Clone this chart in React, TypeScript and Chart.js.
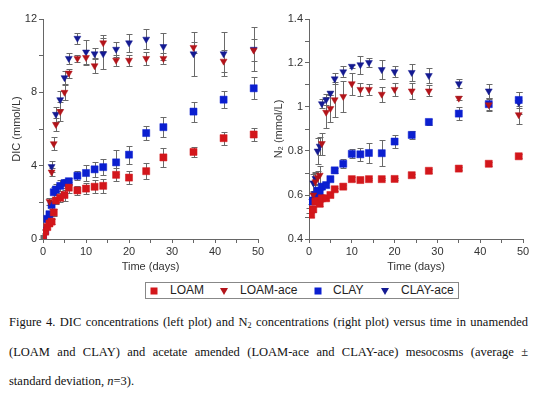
import React, { useEffect, useRef } from 'react';
import { Chart, registerables } from 'chart.js';
Chart.register(...registerables);

// ---------- data ----------
const times = [0, 0.5, 1, 1.5, 2, 2.5, 3, 4, 5, 6, 8, 10, 12, 14, 17, 20, 24, 28, 35, 42, 49];

const loamDic = [0.15, 0.4, 0.65, 0.85, 0.95, 1.45, 2.1, 2.25, 2.4, 2.8, 2.65, 2.75, 2.85, 2.9, 3.5, 3.35, 3.7, 4.45, 4.75, 5.5, 5.7];
const loamDicSd = [0.05, 0.1, 0.1, 0.15, 0.15, 0.2, 0.2, 0.25, 0.3, 0.3, 0.25, 0.3, 0.35, 0.4, 0.35, 0.35, 0.45, 0.5, 0.25, 0.35, 0.35];
const loamAceDic = [null, null, null, 2.05, 3.65, 5.2, 6.25, 6.95, 8.0, 9.05, 9.85, 9.9, 9.45, 10.7, 9.75, 9.75, 9.85, 9.85, 10.45, 9.7, 10.3];
const loamAceDicSd = [0, 0, 0, 0.2, 0.2, 0.35, 0.35, 0.5, 0.4, 0.25, 0.2, 0.4, 0.4, 0.45, 0.3, 0.3, 0.35, 0.3, 0.3, 0.6, 0.6];
const clayDic = [0.1, 0.45, 1.1, 1.35, 1.85, 2.55, 2.7, 2.9, 3.05, 3.15, 3.45, 3.6, 3.8, 3.92, 4.18, 4.6, 5.78, 6.1, 6.95, 7.6, 8.22];
const clayDicSd = [0.05, 0.1, 0.15, 0.15, 0.2, 0.3, 0.3, 0.3, 0.25, 0.2, 0.25, 0.45, 0.4, 0.45, 0.65, 0.5, 0.4, 0.55, 0.55, 0.45, 0.6];
const clayAceDic = [null, null, null, null, 3.95, null, 6.8, 7.6, 8.8, 9.85, 10.95, 10.2, 10.1, 10.1, 10.35, 10.7, 10.9, 10.5, 10.1, 10.1, 10.35];
const clayAceDicSd = [0, 0, 0, 0, 0.3, 0, 0.4, 0.5, 0.35, 0.3, 0.3, 0.65, 0.3, 0.85, 0.4, 0.5, 0.55, 0.75, 1.2, 1.2, 1.2];

const loamN2 = [0.53, 0.51, 0.535, 0.57, 0.573, 0.56, 0.585, 0.585, 0.6, 0.626, 0.638, 0.672, 0.668, 0.672, 0.672, 0.673, 0.69, 0.71, 0.72, 0.742, 0.776];
const loamN2Sd = [0.01, 0.01, 0.01, 0.01, 0.01, 0.01, 0.006, 0.006, 0.008, 0.008, 0.006, 0.008, 0.006, 0.006, 0.006, 0.006, 0.006, 0.008, 0.008, 0.008, 0.01];
const loamAceN2 = [null, null, 0.6, 0.66, 0.68, 0.69, 0.834, 0.976, 0.993, 1.033, 1.048, 1.106, 1.08, 1.08, 1.058, 1.08, 1.073, 1.073, 1.04, 1.01, 0.965];
const loamAceN2Sd = [0, 0, 0.02, 0.04, 0.03, 0.04, 0.05, 0.07, 0.06, 0.08, 0.07, 0.05, 0.03, 0.025, 0.035, 0.03, 0.035, 0.025, 0.01, 0.03, 0.04];
const clayN2 = [null, 0.57, 0.575, 0.6, 0.62, 0.615, 0.638, 0.645, 0.672, 0.712, 0.742, 0.787, 0.785, 0.791, 0.79, 0.843, 0.873, 0.932, 0.97, 1.013, 1.032];
const clayN2Sd = [0, 0.01, 0.01, 0.01, 0.01, 0.01, 0.01, 0.01, 0.01, 0.01, 0.02, 0.02, 0.03, 0.045, 0.058, 0.03, 0.02, 0.015, 0.028, 0.025, 0.035];
const clayAceN2 = [null, null, 0.655, 0.675, 0.8, 0.822, 1.015, 1.033, 1.063, 1.128, 1.16, 1.185, 1.192, 1.202, 1.17, 1.16, 1.157, 1.143, 1.106, 1.073, 1.02];
const clayAceN2Sd = [0, 0, 0.04, 0.03, 0.06, 0.04, 0.02, 0.025, 0.01, 0.025, 0.025, 0.008, 0.04, 0.02, 0.045, 0.025, 0.04, 0.035, 0.02, 0.03, 0.05];

const seriesNames = ['LOAM', 'LOAM-ace', 'CLAY', 'CLAY-ace'];
const seriesColors = ['#d3161b', '#b3141a', '#0b1fd0', '#141a92'];
const seriesShapes = ['square', 'triangle', 'square', 'triangle'];

const dicTicks = [0, 4, 8, 12];
const n2Ticks = [0.4, 0.6, 0.8, 1.0, 1.2, 1.4];
const timeTicks = [0, 10, 20, 30, 40, 50];

// ---------- helpers ----------
const toPoints = (vals: (number | null)[]) => times.map((t, i) => ({ x: t, y: vals[i] }));

const errorBarPlugin = {
  id: 'errorBars',
  beforeDatasetsDraw(chart: any) {
    const ctx = chart.ctx;
    const xs = chart.scales.x;
    const ys = chart.scales.y;
    ctx.save();
    ctx.strokeStyle = '#6a6a6a';
    ctx.lineWidth = 1;
    chart.data.datasets.forEach((ds: any) => {
      const errs = ds.errors as number[];
      ds.data.forEach((p: any, i: number) => {
        if (p.y == null || !errs || !errs[i]) return;
        const x = Math.round(xs.getPixelForValue(p.x)) + 0.5;
        const y1 = Math.round(ys.getPixelForValue(p.y - errs[i])) + 0.5;
        const y2 = Math.round(ys.getPixelForValue(p.y + errs[i])) + 0.5;
        ctx.beginPath();
        ctx.moveTo(x, y1);
        ctx.lineTo(x, y2);
        ctx.moveTo(x - 3, y1);
        ctx.lineTo(x + 3, y1);
        ctx.moveTo(x - 3, y2);
        ctx.lineTo(x + 3, y2);
        ctx.stroke();
      });
    });
    ctx.restore();
  },
};

const mkDataset = (idx: number, vals: (number | null)[], sd: number[]) => {
  const tri = seriesShapes[idx] === 'triangle';
  return {
    label: seriesNames[idx],
    data: toPoints(vals),
    errors: sd,
    pointStyle: tri ? 'triangle' : 'rect',
    rotation: tri ? 180 : 0,
    pointRadius: tri ? 4 : 5,
    pointBackgroundColor: seriesColors[idx],
    pointBorderColor: seriesColors[idx],
    pointBorderWidth: 0.5,
    showLine: false,
  };
};

const FONT = 'Liberation Sans, Arial, sans-serif';

const makeConfig = (opts: any) => ({
  type: 'scatter',
  data: { datasets: opts.datasets },
  plugins: [errorBarPlugin],
  options: {
    animation: false,
    responsive: false,
    events: [],
    layout: { padding: { left: 0, top: 19, right: opts.padRight, bottom: 0 } },
    plugins: { legend: { display: false }, tooltip: { enabled: false } },
    scales: {
      x: {
        type: 'linear',
        min: 0,
        max: 50,
        afterFit: (s: any) => { s.height = 41; },
        ticks: {
          stepSize: 5,
          autoSkip: false,
          maxRotation: 0,
          padding: 2,
          color: '#333',
          font: { family: FONT, size: 11 },
          callback: (v: number) => (timeTicks.includes(v) ? String(v) : ''),
        },
        grid: { drawOnChartArea: false, drawTicks: true, tickLength: 4, tickColor: '#666' },
        border: { display: true, color: '#666' },
        title: { display: true, text: 'Time (days)', color: '#333', font: { family: FONT, size: 11 }, padding: { top: 0, bottom: 6 } },
      },
      y: {
        type: 'linear',
        min: opts.yMin,
        max: opts.yMax,
        afterFit: (s: any) => { s.width = opts.yWidth; },
        ticks: {
          stepSize: opts.yStep,
          autoSkip: false,
          padding: 2,
          color: '#333',
          font: { family: FONT, size: 11 },
          callback: (v: number) => {
            const r = Math.round(v * 100) / 100;
            return opts.yTicks.some((t: number) => Math.abs(t - r) < 1e-6) ? String(r) : '';
          },
        },
        grid: { drawOnChartArea: false, drawTicks: true, tickLength: 4, tickColor: '#666' },
        border: { display: true, color: '#666' },
        title: { display: true, text: opts.yTitle, color: '#333', font: { family: FONT, size: 11 }, padding: { top: opts.yTitlePad, bottom: 0 } },
      },
    },
  },
});

function ChartCanvas({ config, width, height, style }: any) {
  const ref = useRef<HTMLCanvasElement>(null);
  useEffect(() => {
    if (!ref.current) return;
    const chart = new Chart(ref.current, config);
    return () => chart.destroy();
  }, []);
  return <canvas ref={ref} width={width} height={height} style={{ position: 'absolute', width, height, ...style }} />;
}

function Marker({ shape, color }: { shape: string; color: string }) {
  return (
    <svg width={8} height={8} style={{ display: 'block' }}>
      {shape === 'square' ? (
        <rect x={0.5} y={0.5} width={7} height={7} fill={color} />
      ) : (
        <polygon points="0,1 8,1 4,8" fill={color} />
      )}
    </svg>
  );
}

export default function App() {
  useEffect(() => {
    document.body.style.margin = '0';
  }, []);

  const dicConfig = makeConfig({
    datasets: [
      mkDataset(0, loamDic, loamDicSd),
      mkDataset(1, loamAceDic, loamAceDicSd),
      mkDataset(2, clayDic, clayDicSd),
      mkDataset(3, clayAceDic, clayAceDicSd),
    ],
    padRight: 12,
    yMin: 0,
    yMax: 12,
    yStep: 2,
    yTicks: dicTicks,
    yWidth: 43,
    yTitle: 'DIC (mmol/L)',
    yTitlePad: 10,
  });

  const n2Config = makeConfig({
    datasets: [
      mkDataset(0, loamN2, loamN2Sd),
      mkDataset(1, loamAceN2, loamAceN2Sd),
      mkDataset(2, clayN2, clayN2Sd),
      mkDataset(3, clayAceN2, clayAceN2Sd),
    ],
    padRight: 31,
    yMin: 0.4,
    yMax: 1.4,
    yStep: 0.1,
    yTicks: n2Ticks,
    yWidth: 39,
    yTitle: 'N\u2082 (mmol/L)',
    yTitlePad: 2,
  });

  const legendItems = [
    { mx: 150, tx: 170 },
    { mx: 220, tx: 240 },
    { mx: 314, tx: 333 },
    { mx: 381, tx: 401 },
  ];

  const serif = '"Liberation Serif", "Times New Roman", serif';
  const captionLine: React.CSSProperties = {
    position: 'absolute',
    left: 9,
    width: 519,
    fontFamily: serif,
    fontSize: 12.5,
    lineHeight: '15px',
    color: '#111',
    whiteSpace: 'nowrap',
  };

  return (
    <div style={{ position: 'relative', width: 554, height: 399, background: '#fff', overflow: 'hidden' }}>
      <ChartCanvas config={dicConfig} width={270} height={280} style={{ left: 0, top: 0 }} />
      <ChartCanvas config={n2Config} width={284} height={280} style={{ left: 270, top: 0 }} />

      <div style={{ position: 'absolute', left: 145, top: 282, width: 312, height: 15, border: '1px solid #888', boxSizing: 'content-box' }}>
        {seriesNames.map((n, i) => (
          <React.Fragment key={n}>
            <div style={{ position: 'absolute', left: legendItems[i].mx - 146, top: 4 }}>
              <Marker shape={seriesShapes[i]} color={seriesColors[i]} />
            </div>
            <div style={{ position: 'absolute', left: legendItems[i].tx - 146, top: 0, fontFamily: FONT, fontSize: 12, lineHeight: '15px', color: '#222' }}>{n}</div>
          </React.Fragment>
        ))}
      </div>

      <div style={{ ...captionLine, top: 315, textAlign: 'justify', textAlignLast: 'justify' as any }}>
        Figure 4. DIC concentrations (left plot) and N<sub style={{ fontSize: 8, verticalAlign: '-2px', lineHeight: 0 }}>2</sub> concentrations (right plot) versus time in unamended
      </div>
      <div style={{ ...captionLine, top: 345, textAlign: 'justify', textAlignLast: 'justify' as any, whiteSpace: 'normal' }}>
        (LOAM and CLAY) and acetate amended (LOAM-ace and CLAY-ace) mesocosms (average ±
      </div>
      <div style={{ ...captionLine, top: 374 }}>
        standard deviation, <i>n</i>=3).
      </div>
    </div>
  );
}
